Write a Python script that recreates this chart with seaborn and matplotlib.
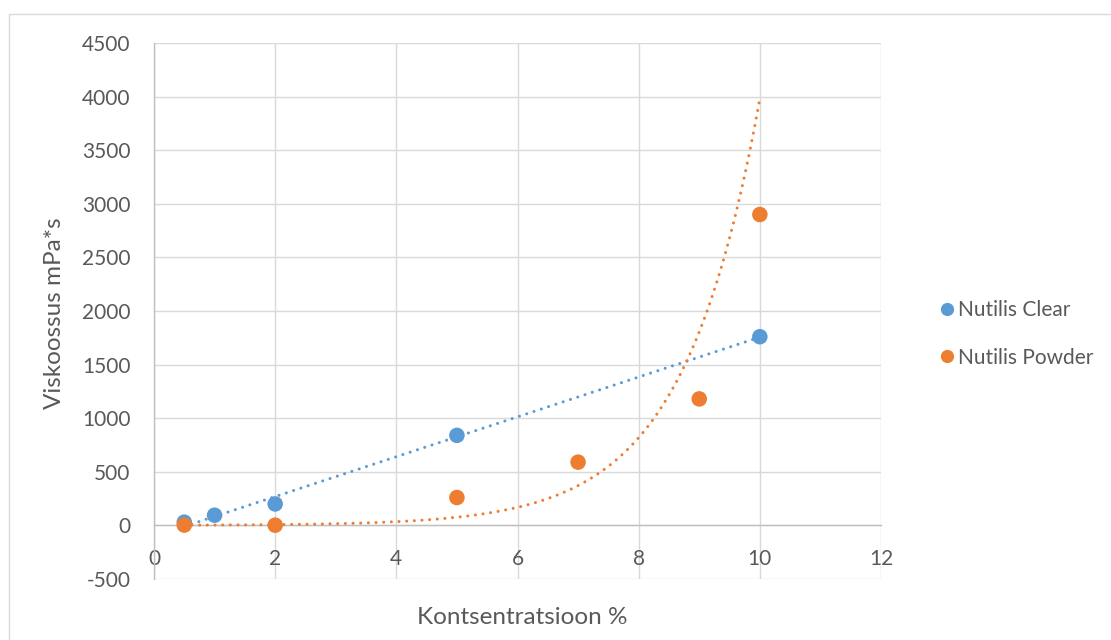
import numpy as np
import pandas as pd
import matplotlib
matplotlib.use("Agg")
import matplotlib.pyplot as plt
from matplotlib.patches import Rectangle
import seaborn as sns

# ---- data ----
clear_x = [0.5, 1, 2, 5, 10]
clear_y = [30, 95, 200, 840, 1760]
powder_x = [0.5, 2, 5, 7, 9, 10]
powder_y = [3, 2, 260, 590, 1180, 2900]
series_names = ["Nutilis Clear", "Nutilis Powder"]
x_ticks = [0, 2, 4, 6, 8, 10, 12]
y_ticks = [-500, 0, 500, 1000, 1500, 2000, 2500, 3000, 3500, 4000, 4500]
x_label = "Kontsentratsioon %"
y_label = "Viskoossus mPa*s"

BLUE = "#5B9BD5"
ORANGE = "#ED7D31"
TEXT = "#595959"
GRID = "#D9D9D9"
AXIS = "#BFBFBF"

sns.set_theme(style="white")
plt.rcParams["font.family"] = ["Lato", "DejaVu Sans"]

W, H = 1111, 640
fig = plt.figure(figsize=(W / 100, H / 100), dpi=100)
ax = fig.add_axes([154 / W, 1 - 579 / H, (881 - 154) / W, (579 - 43) / H])

# outer chart border
fig.patches.append(Rectangle((9 / W, -0.1), 1.2, 1 - 14 / H + 0.1, transform=fig.transFigure,
                             fill=False, edgecolor=GRID, linewidth=1.0, zorder=0))

df = pd.concat([
    pd.DataFrame({"x": clear_x, "y": clear_y, "series": series_names[0]}),
    pd.DataFrame({"x": powder_x, "y": powder_y, "series": series_names[1]}),
])

# trendlines (linear for Clear, exponential for Powder), like Excel
xs1 = np.linspace(min(clear_x), max(clear_x), 200)
k, b = np.polyfit(clear_x, clear_y, 1)
ys1 = k * xs1 + b
xs2 = np.linspace(min(powder_x), max(powder_x), 300)
kk, bb = np.polyfit(powder_x, np.log(powder_y), 1)
ys2 = np.exp(bb + kk * xs2)

dot = (0, (0.01, 2.5))
sns.lineplot(x=xs1, y=ys1, ax=ax, color=BLUE, linewidth=2.2, zorder=3)
sns.lineplot(x=xs2, y=ys2, ax=ax, color=ORANGE, linewidth=2.2, zorder=3)
for ln in ax.lines:
    ln.set_linestyle(dot)
    ln.set_dash_capstyle("round")

sns.scatterplot(data=df, x="x", y="y", hue="series", palette=[BLUE, ORANGE],
                s=125, edgecolor="none", ax=ax, zorder=4, legend=True)

ax.set_xlim(0, 12)
ax.set_ylim(-500, 4500)
ax.set_xticks(x_ticks)
ax.set_yticks(y_ticks)
ax.set_xticklabels([str(v) for v in x_ticks])
ax.set_yticklabels([str(v) for v in y_ticks])

ax.grid(True, color=GRID, linewidth=1.0)
ax.set_axisbelow(True)
for s in ["top", "right"]:
    ax.spines[s].set_visible(False)
ax.spines["bottom"].set_position(("data", 0))
ax.spines["bottom"].set_color(AXIS)
ax.spines["bottom"].set_linewidth(1.0)
ax.spines["left"].set_color(AXIS)
ax.spines["left"].set_linewidth(1.0)
ax.tick_params(axis="both", length=0, labelsize=15, labelcolor=TEXT)
ax.tick_params(axis="x", pad=17)
ax.tick_params(axis="y", pad=17)

ax.set_xlabel("")
ax.set_ylabel("")
fig.text(522 / W, 1 - 617 / H, x_label, ha="center", va="center", fontsize=17.5, color=TEXT)
fig.text(55 / W, 1 - 313 / H, y_label, ha="center", va="center", rotation=90,
         fontsize=17.5, color=TEXT)

handles, labels = ax.get_legend_handles_labels()
ax.legend(handles, labels, loc="center left", bbox_to_anchor=(928 / W, 1 - 334 / H),
          bbox_transform=fig.transFigure, frameon=False, fontsize=15,
          labelcolor=TEXT, handletextpad=0.05, labelspacing=1.3, markerscale=0.85,
          handlelength=1.0, borderaxespad=0)

fig.savefig("out.png", dpi=100)
